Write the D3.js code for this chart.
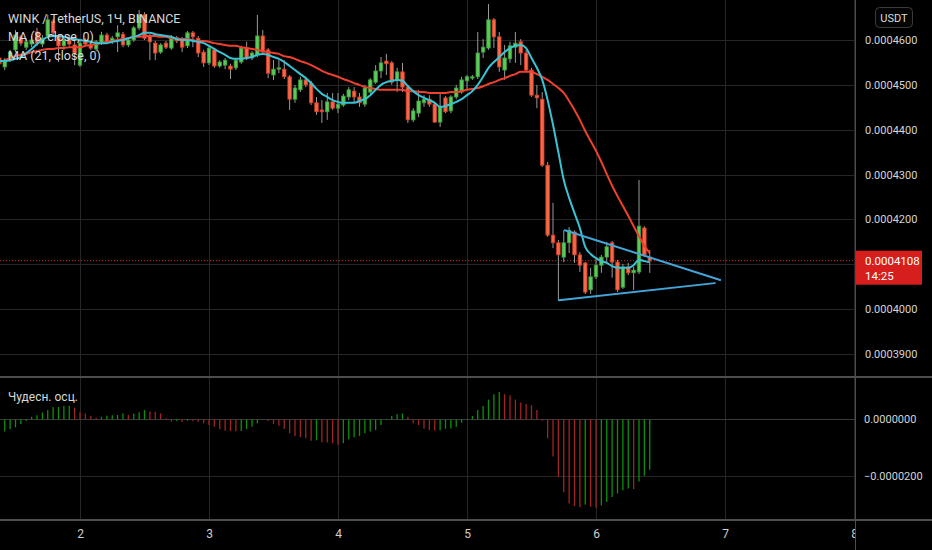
<!DOCTYPE html>
<html>
<head>
<meta charset="utf-8">
<script src="https://cdn.jsdelivr.net/npm/d3@7"></script>
<style>
html, body { margin: 0; padding: 0; background: #000; }
svg { display: block; font-family: Roboto, "Noto Sans", sans-serif; }
</style>
</head>
<body>
<svg id="chart" width="932" height="550"></svg>
<script>
// WINK/USDT 1h candles, prices in units of 0.0000001 USDT
var PRICE_UNIT = 1e-7;
var firstCandle = new Date(2020, 5, 1, 9);   // day 1, 09:00

var candleOpen = [
  4560,4540,4555,4578,4607,4584,4591,4618,4591,4609,
  4642,4609,4587,4604,4589,4544,4600,4589,4580,4593,
  4611,4596,4607,4613,4589,4600,4627,4656,4609,4593,
  4573,4593,4582,4604,4600,4587,4616,4604,4573,4549,
  4578,4542,4544,4542,4538,4551,4582,4560,4567,4609,
  4578,4522,4535,4535,4518,4468,4489,4511,4504,4460,
  4444,4440,4462,4448,4455,4473,4486,4473,4457,4484,
  4506,4531,4553,4549,4511,4529,4495,4422,4437,4460,
  4468,4457,4417,4471,4442,4473,4484,4509,4515,4518,
  4573,4582,4645,4607,4533,4558,4584,4596,4571,4533,
  4477,4468,4321,4165,4148,4116,4148,4172,4121,4103,
  4043,4072,4098,4116,4148,4105,4049,4094,4081,4083,
  4181,4116
];
var candleHigh = [
  4567,4560,4578,4622,4611,4604,4609,4627,4611,4656,
  4647,4613,4607,4611,4607,4600,4604,4596,4600,4618,
  4616,4609,4633,4618,4604,4631,4667,4662,4613,4598,
  4593,4598,4611,4609,4607,4620,4620,4609,4578,4587,
  4582,4555,4560,4547,4560,4587,4596,4575,4656,4622,
  4582,4555,4555,4555,4522,4500,4518,4518,4509,4473,
  4466,4482,4482,4482,4480,4495,4495,4482,4500,4515,
  4544,4562,4569,4553,4538,4549,4500,4448,4489,4477,
  4477,4462,4480,4475,4477,4500,4518,4522,4522,4618,
  4602,4680,4649,4618,4589,4596,4618,4602,4578,4538,
  4500,4484,4328,4237,4154,4176,4183,4176,4127,4105,
  4092,4116,4121,4150,4152,4110,4101,4103,4094,4288,
  4185,4132
];
var candleLow = [
  4542,4533,4551,4573,4587,4578,4584,4587,4584,4604,
  4609,4551,4578,4587,4544,4540,4587,4578,4575,4589,
  4591,4591,4573,4584,4584,4596,4622,4600,4555,4555,
  4569,4580,4578,4593,4573,4582,4584,4562,4540,4544,
  4538,4538,4535,4513,4533,4547,4555,4555,4562,4569,
  4515,4511,4526,4513,4444,4460,4484,4495,4455,4433,
  4415,4422,4444,4437,4451,4466,4460,4451,4451,4480,
  4502,4515,4522,4500,4484,4484,4415,4417,4428,4451,
  4451,4415,4406,4437,4437,4468,4480,4489,4511,4513,
  4560,4578,4582,4529,4511,4549,4549,4544,4529,4473,
  4448,4317,4161,4136,4020,4105,4125,4103,4083,4034,
  4034,4067,4081,4103,4070,4038,4045,4076,4043,4078,
  4116,4081
];
var candleClose = [
  4547,4555,4573,4611,4593,4596,4600,4593,4604,4645,
  4616,4587,4600,4591,4571,4593,4591,4582,4596,4611,
  4596,4604,4616,4589,4600,4627,4656,4604,4596,4571,
  4589,4584,4607,4598,4584,4616,4607,4571,4549,4582,
  4542,4551,4555,4535,4555,4582,4560,4571,4609,4573,
  4526,4535,4538,4518,4468,4493,4511,4500,4460,4440,
  4440,4462,4448,4457,4475,4489,4473,4460,4493,4511,
  4531,4549,4547,4506,4529,4495,4422,4442,4464,4468,
  4457,4417,4451,4440,4473,4493,4511,4518,4518,4571,
  4584,4645,4607,4540,4560,4587,4593,4571,4533,4477,
  4471,4321,4165,4148,4121,4148,4176,4121,4098,4038,
  4072,4098,4116,4139,4105,4043,4094,4081,4087,4185,
  4121,4108
];

// MA (8, close) and MA (21, close) as shown on the chart
var ma8Values = [
  4553,4553,4555,4558,4562,4571,4580,4591,4600,4607,
  4609,4609,4607,4604,4602,4600,4598,4596,4593,4593,
  4593,4596,4598,4600,4604,4607,4611,4616,4616,4613,
  4611,4609,4607,4602,4600,4600,4598,4596,4593,4587,
  4580,4573,4567,4560,4558,4558,4560,4562,4567,4569,
  4567,4562,4558,4551,4542,4533,4524,4515,4504,4491,
  4480,4473,4466,4462,4460,4460,4460,4464,4468,4477,
  4489,4500,4506,4509,4511,4509,4497,4486,4477,4471,
  4466,4460,4451,4453,4457,4462,4468,4477,4486,4500,
  4518,4538,4551,4562,4573,4582,4587,4589,4582,4560,
  4538,4511,4466,4411,4350,4288,4248,4214,4181,4139,
  4123,4114,4107,4103,4096,4092,4092,4092,4098,4110,
  4107,4105
];
var ma21Values = [
  4551,4555,4560,4564,4567,4569,4573,4575,4578,4580,
  4580,4582,4582,4584,4584,4584,4587,4589,4591,4593,
  4596,4598,4600,4602,4604,4607,4607,4609,4609,4609,
  4607,4607,4604,4604,4602,4602,4600,4598,4598,4596,
  4593,4591,4589,4587,4587,4584,4582,4580,4578,4575,
  4573,4571,4569,4564,4562,4558,4553,4549,4544,4538,
  4531,4526,4522,4518,4513,4509,4504,4500,4495,4493,
  4491,4489,4489,4489,4489,4489,4486,4486,4484,4484,
  4482,4482,4482,4482,4484,4484,4486,4489,4491,4493,
  4497,4502,4506,4511,4515,4520,4524,4529,4529,4529,
  4524,4518,4511,4502,4493,4482,4464,4444,4422,4397,
  4375,4353,4328,4301,4275,4252,4230,4208,4185,4163,
  4141,4125
];

// Awesome oscillator ("Чудесн. осц."), same units
var aoValues = [
  -47,-43,-35,-28,-16,-6,9,15,24,33,
  43,44,47,48,41,25,21,13,6,9,
  13,15,16,21,16,20,25,33,28,27,
  21,4,-8,-6,-9,-5,-6,-8,-14,-20,
  -26,-35,-40,-41,-42,-41,-34,-26,-14,-2,
  -6,-16,-22,-34,-49,-59,-63,-67,-75,-74,
  -81,-82,-84,-90,-84,-70,-63,-59,-49,-43,
  -38,-20,-2,12,18,21,9,-14,-20,-32,
  -38,-40,-38,-33,-32,-26,-12,1,12,33,
  47,70,89,97,89,85,70,60,54,50,
  33,-5,-67,-131,-204,-257,-297,-306,-310,-301,
  -309,-312,-304,-292,-274,-262,-250,-244,-246,-219,
  -199,-178
];

var priceTicks = [4600, 4500, 4400, 4300, 4200, 4100, 4000, 3900];
var aoTicks = [0, -200];
var dayTicks = [2, 3, 4, 5, 6, 7, 8];
var lastPrice = 4108;
var barCountdown = "14:25";

// hand drawn triangle: [candle index, price]
var triangleUpper = [[105.2, 4176], [134.1, 4065]];
var triangleLower = [[104.1, 4020], [133.1, 4058]];

var titleText = "WINK / TetherUS, 1Ч, BINANCE";
var maLegend = ["MA (8, close, 0)", "MA (21, close, 0)"];
var aoLegend = "Чудесн. осц.";

// layout
var W = 932, H = 550;
var plotRight = 855;
var pricePaneBottom = 377;
var oscBottom = 520;

var svg = d3.select("#chart");

function candleTime(i)
{
	return new Date(firstCandle.getTime() + i * 3600 * 1000);
}

function fmtPrice(v)
{
	return (v * PRICE_UNIT).toFixed(7).replace("-", "\u2212");
}

var x = d3.scaleTime()
	.domain([new Date(2020, 5, 2), new Date(2020, 5, 6)])
	.range([80, 596]);
var yPrice = d3.scaleLinear().domain([3900, 4600]).range([354, 40]);
var yAo = d3.scaleLinear().domain([-200, 0]).range([476, 419.4]);

var dayDates = dayTicks.map(function(d){ return new Date(2020, 5, d); });
var badgeY = yPrice(lastPrice);

svg.append("rect").attr("width", W).attr("height", H).attr("fill", "#000");

//grid
var grid = svg.append("g").attr("stroke", "#262626").attr("stroke-width", 1);
grid.selectAll("line.vgrid")
	.data(dayDates)
	.enter()
	.append("line")
	.attr("class", "vgrid")
	.attr("x1", function(d){ return Math.round(x(d)) + 0.5; })
	.attr("x2", function(d){ return Math.round(x(d)) + 0.5; })
	.attr("y1", 0)
	.attr("y2", oscBottom);
grid.selectAll("line.hgrid")
	.data(priceTicks)
	.enter()
	.append("line")
	.attr("class", "hgrid")
	.attr("x1", 0)
	.attr("x2", plotRight)
	.attr("y1", function(d){ return Math.round(yPrice(d)) + 0.5; })
	.attr("y2", function(d){ return Math.round(yPrice(d)) + 0.5; });
grid.selectAll("line.agrid")
	.data(aoTicks)
	.enter()
	.append("line")
	.attr("class", "agrid")
	.attr("x1", 0)
	.attr("x2", plotRight)
	.attr("y1", function(d){ return Math.round(yAo(d)) + 0.5; })
	.attr("y2", function(d){ return Math.round(yAo(d)) + 0.5; })
	.attr("stroke", function(d){ return d == 0 ? "#3a3a3a" : "#262626"; });

//price pane
svg.append("clipPath").attr("id", "priceClip")
	.append("rect").attr("x", 0).attr("y", 0).attr("width", plotRight).attr("height", pricePaneBottom);
var pricePane = svg.append("g").attr("clip-path", "url(#priceClip)");

var idx = d3.range(candleClose.length);

pricePane.append("line")
	.attr("x1", 0)
	.attr("x2", plotRight)
	.attr("y1", badgeY)
	.attr("y2", badgeY)
	.attr("stroke", "#d42424")
	.attr("stroke-width", 1)
	.attr("stroke-dasharray", "1,2");

pricePane.selectAll("line.wick")
	.data(idx)
	.enter()
	.append("line")
	.attr("class", "wick")
	.attr("x1", function(i){ return x(candleTime(i)); })
	.attr("x2", function(i){ return x(candleTime(i)); })
	.attr("y1", function(i){ return yPrice(candleHigh[i]); })
	.attr("y2", function(i){ return yPrice(candleLow[i]); })
	.attr("stroke", "#9a9a9a")
	.attr("stroke-width", 1);

pricePane.selectAll("rect.body")
	.data(idx)
	.enter()
	.append("rect")
	.attr("class", "body")
	.attr("x", function(i){ return x(candleTime(i)) - 1.75; })
	.attr("width", 3.5)
	.attr("y", function(i){ return yPrice(Math.max(candleOpen[i], candleClose[i])); })
	.attr("height", function(i){ return Math.max(1, Math.abs(yPrice(candleOpen[i]) - yPrice(candleClose[i]))); })
	.attr("fill", function(i){ return candleClose[i] >= candleOpen[i] ? "#5cc95a" : "#f26a4b"; })
	.attr("stroke", function(i){ return candleClose[i] >= candleOpen[i] ? "#3a9c3a" : "#d63a22"; })
	.attr("stroke-width", 0.8);

var maLine = function(values){
	return d3.line()
		.x(function(v, i){ return x(candleTime(i)); })
		.y(function(v){ return yPrice(v); })
		.curve(d3.curveMonotoneX)(values);
};
pricePane.append("path").attr("d", maLine(ma21Values))
	.attr("fill", "none").attr("stroke", "#f0402e").attr("stroke-width", 2);
pricePane.append("path").attr("d", maLine(ma8Values))
	.attr("fill", "none").attr("stroke", "#38c3d6").attr("stroke-width", 2);

[triangleUpper, triangleLower].forEach(function(seg){
	pricePane.append("line")
		.attr("x1", x(candleTime(seg[0][0])))
		.attr("y1", yPrice(seg[0][1]))
		.attr("x2", x(candleTime(seg[1][0])))
		.attr("y2", yPrice(seg[1][1]))
		.attr("stroke", "#44a5d8")
		.attr("stroke-width", 2)
		.attr("stroke-linecap", "round");
});

//oscillator
svg.append("g").selectAll("line.ao")
	.data(idx)
	.enter()
	.append("line")
	.attr("class", "ao")
	.attr("x1", function(i){ return x(candleTime(i)); })
	.attr("x2", function(i){ return x(candleTime(i)); })
	.attr("y1", yAo(0))
	.attr("y2", function(i){ return yAo(aoValues[i]); })
	.attr("stroke", function(i){
		if(i == 0 || aoValues[i] >= aoValues[i - 1])
		{
			return "#0c900c";
		}
		return "#a02424";
	})
	.attr("stroke-width", 1.3);

//legends
var legend = svg.append("g").attr("fill", "#d9d9d9");
legend.append("text").attr("x", 8).attr("y", 23).attr("font-size", 12.5).text(titleText);
legend.selectAll("text.ma")
	.data(maLegend)
	.enter()
	.append("text")
	.attr("class", "ma")
	.attr("x", 8)
	.attr("y", function(d, i){ return 41 + i * 19; })
	.attr("font-size", 12.5)
	.text(function(d){ return d; });
legend.append("text").attr("x", 8).attr("y", 401).attr("font-size", 12).text(aoLegend);

//time axis
var timeAxis = svg.append("g")
	.attr("transform", "translate(0," + oscBottom + ")")
	.call(d3.axisBottom(x).tickValues(dayDates).tickFormat(d3.timeFormat("%-d")).tickSize(0).tickPadding(9));
timeAxis.select(".domain").remove();
timeAxis.selectAll("text").attr("fill", "#cfcfcf").attr("font-size", 12).attr("font-family", "Roboto, sans-serif");

//price axis panel
svg.append("rect").attr("x", plotRight + 1).attr("y", 0).attr("width", W - plotRight).attr("height", H).attr("fill", "#000");

// the tick hidden under the last price badge gets no label
var labelTicks = priceTicks.filter(function(t){ return Math.abs(yPrice(t) - badgeY) > 20; });
var priceAxis = svg.append("g")
	.attr("transform", "translate(" + plotRight + ",0)")
	.call(d3.axisRight(yPrice).tickValues(labelTicks).tickFormat(fmtPrice).tickSize(0).tickPadding(10));
priceAxis.select(".domain").remove();
priceAxis.selectAll("text").attr("fill", "#d4d4d4").attr("font-size", 11).attr("font-family", "Roboto, sans-serif");

var aoAxis = svg.append("g")
	.attr("transform", "translate(" + plotRight + ",0)")
	.call(d3.axisRight(yAo).tickValues(aoTicks).tickFormat(fmtPrice).tickSize(0).tickPadding(9));
aoAxis.select(".domain").remove();
aoAxis.selectAll("text").attr("fill", "#d4d4d4").attr("font-size", 11).attr("font-family", "Roboto, sans-serif");

// currency button
svg.append("rect").attr("x", 875.5).attr("y", 7.5).attr("width", 37).attr("height", 20).attr("rx", 4)
	.attr("fill", "#050505").attr("stroke", "#3c3c3c");
svg.append("text").attr("x", 894).attr("y", 21.5).attr("text-anchor", "middle")
	.attr("fill", "#dcdcdc").attr("font-size", 11).text("USDT");

// last price badge
svg.append("rect").attr("x", plotRight).attr("y", badgeY - 10).attr("width", 67).attr("height", 34).attr("fill", "#d61f1c");
svg.append("text").attr("x", 865).attr("y", badgeY + 4).attr("fill", "#fff").attr("font-size", 11.5).text(fmtPrice(lastPrice));
svg.append("text").attr("x", 865).attr("y", badgeY + 19).attr("fill", "#fff").attr("font-size", 11.5).text(barCountdown);

//pane borders
var borders = svg.append("g").attr("stroke", "#4d4d4d");
borders.append("line").attr("x1", 0).attr("x2", W).attr("y1", pricePaneBottom).attr("y2", pricePaneBottom).attr("stroke-width", 2);
borders.append("line").attr("x1", 0).attr("x2", W).attr("y1", oscBottom).attr("y2", oscBottom).attr("stroke-width", 2);
borders.append("line").attr("x1", plotRight + 0.5).attr("x2", plotRight + 0.5).attr("y1", 0).attr("y2", H).attr("stroke-width", 1);
</script>
</body>
</html>
